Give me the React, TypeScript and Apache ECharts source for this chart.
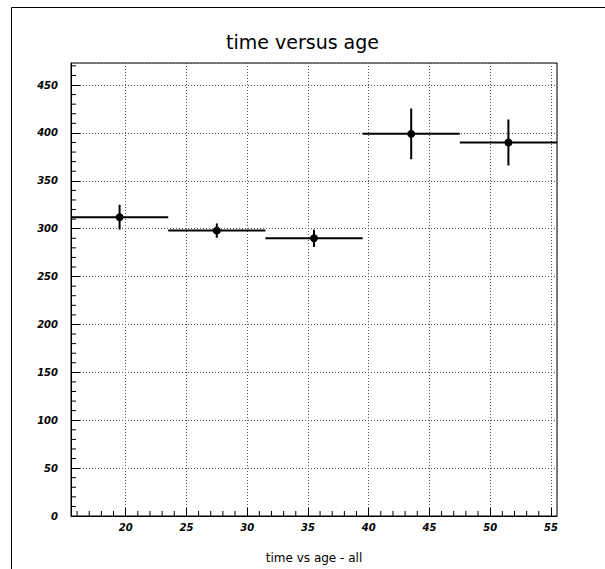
import React, { useEffect, useRef } from "react";
import * as echarts from "echarts";

const binCenters = [19.5, 27.5, 35.5, 43.5, 51.5];
const binHalfWidths = [4, 4, 4, 4, 4];
const meanTimes = [312, 298, 290, 399, 390];
const timeErrors = [13, 7.5, 9, 26.5, 24];

const xMin = 15.5;
const xMax = 55.5;
const yMin = 0;
const yMax = 473;
const xMinorTickValues = [16, 17, 18, 19, 21, 22, 23, 24, 26, 27, 28, 29, 31, 32, 33, 34, 36, 37, 38, 39, 41, 42, 43, 44, 46, 47, 48, 49, 51, 52, 53, 54];
const yMinorTickValues = [10, 20, 30, 40, 60, 70, 80, 90, 110, 120, 130, 140, 160, 170, 180, 190, 210, 220, 230, 240, 260, 270, 280, 290, 310, 320, 330, 340, 360, 370, 380, 390, 410, 420, 430, 440, 460, 470];

const titleText = "time versus age";
const xAxisTitle = "time vs age - all";

export default function App() {
  const ref = useRef<HTMLDivElement>(null);
  useEffect(() => {
    document.body.style.margin = "0";
    if (!ref.current) return;
    const chart = echarts.init(ref.current, null, { renderer: "svg" });
    const labelFont = {
      fontFamily: "DejaVu Sans",
      fontSize: 10,
      fontWeight: "bold" as const,
      fontStyle: "italic" as const,
      color: "#000",
    };
    const splitStyle = { color: "#555", width: 1, type: [1, 2] as any };
    chart.setOption({
      animation: false,
      backgroundColor: "#fff",
      title: {
        text: titleText,
        left: "center",
        top: 27,
        textStyle: { fontFamily: "DejaVu Sans", fontSize: 19, fontWeight: "normal", color: "#000" },
      },
      graphic: [
        { type: "line", shape: { x1: 11.5, y1: 7.5, x2: 605, y2: 7.5 }, style: { stroke: "#000", lineWidth: 1 } },
        { type: "line", shape: { x1: 11.5, y1: 7.5, x2: 11.5, y2: 569 }, style: { stroke: "#000", lineWidth: 1 } },
      ],
      grid: {
        left: 71,
        right: 48,
        top: 63,
        bottom: 52,
        show: true,
        borderColor: "#000",
        borderWidth: 1,
        backgroundColor: "transparent",
      },
      xAxis: {
        type: "value",
        min: xMin,
        max: xMax,
        splitNumber: 8,
        name: xAxisTitle,
        nameLocation: "middle",
        nameGap: 36,
        nameTextStyle: { fontFamily: "DejaVu Sans", fontSize: 12, color: "#000" },
        axisLine: { show: true, onZero: false, lineStyle: { color: "#000", width: 1 } },
        axisTick: { show: true, inside: true, length: 8, lineStyle: { color: "#000" } },
        axisLabel: { ...labelFont, margin: 6, showMinLabel: false, showMaxLabel: false },
        splitLine: { show: true, lineStyle: splitStyle },
      },
      yAxis: {
        type: "value",
        min: yMin,
        max: yMax,
        interval: 50,
        axisLine: { show: true, lineStyle: { color: "#000", width: 1 } },
        axisTick: { show: true, inside: true, length: 9, lineStyle: { color: "#000" } },
        axisLabel: { ...labelFont, margin: 13, showMaxLabel: false },
        splitLine: { show: true, lineStyle: splitStyle },
      },
      series: [
        {
          type: "custom",
          silent: true,
          data: xMinorTickValues.map((v) => [v]),
          encode: { x: 0 },
          renderItem: (params: any, api: any) => {
            const p = api.coord([api.value(0), yMin]);
            return {
              type: "line",
              shape: { x1: p[0], y1: p[1], x2: p[0], y2: p[1] - 5 },
              style: { stroke: "#000", lineWidth: 1 },
            };
          },
        },
        {
          type: "custom",
          silent: true,
          data: yMinorTickValues.map((v) => [xMin, v]),
          encode: { x: 0, y: 1 },
          renderItem: (params: any, api: any) => {
            const p = api.coord([xMin, api.value(1)]);
            return {
              type: "line",
              shape: { x1: p[0], y1: p[1], x2: p[0] + 5, y2: p[1] },
              style: { stroke: "#000", lineWidth: 1 },
            };
          },
        },
        {
          type: "custom",
          data: binCenters.map((c, i) => [c, meanTimes[i], timeErrors[i], binHalfWidths[i]]),
          encode: { x: 0, y: 1 },
          renderItem: (params: any, api: any) => {
            const x = api.value(0);
            const y = api.value(1);
            const e = api.value(2);
            const hw = api.value(3);
            const pL = api.coord([x - hw, y]);
            const pR = api.coord([x + hw, y]);
            const pT = api.coord([x, y + e]);
            const pB = api.coord([x, y - e]);
            const c = api.coord([x, y]);
            const st = { stroke: "#000", lineWidth: 2 };
            return {
              type: "group",
              children: [
                { type: "line", shape: { x1: pL[0], y1: pL[1], x2: pR[0], y2: pR[1] }, style: st },
                { type: "line", shape: { x1: pT[0], y1: pT[1], x2: pB[0], y2: pB[1] }, style: st },
                { type: "circle", shape: { cx: c[0], cy: c[1], r: 4 }, style: { fill: "#000" } },
              ],
            };
          },
        },
      ],
    });
    return () => chart.dispose();
  }, []);
  return <div ref={ref} style={{ width: 605, height: 569 }} />;
}
